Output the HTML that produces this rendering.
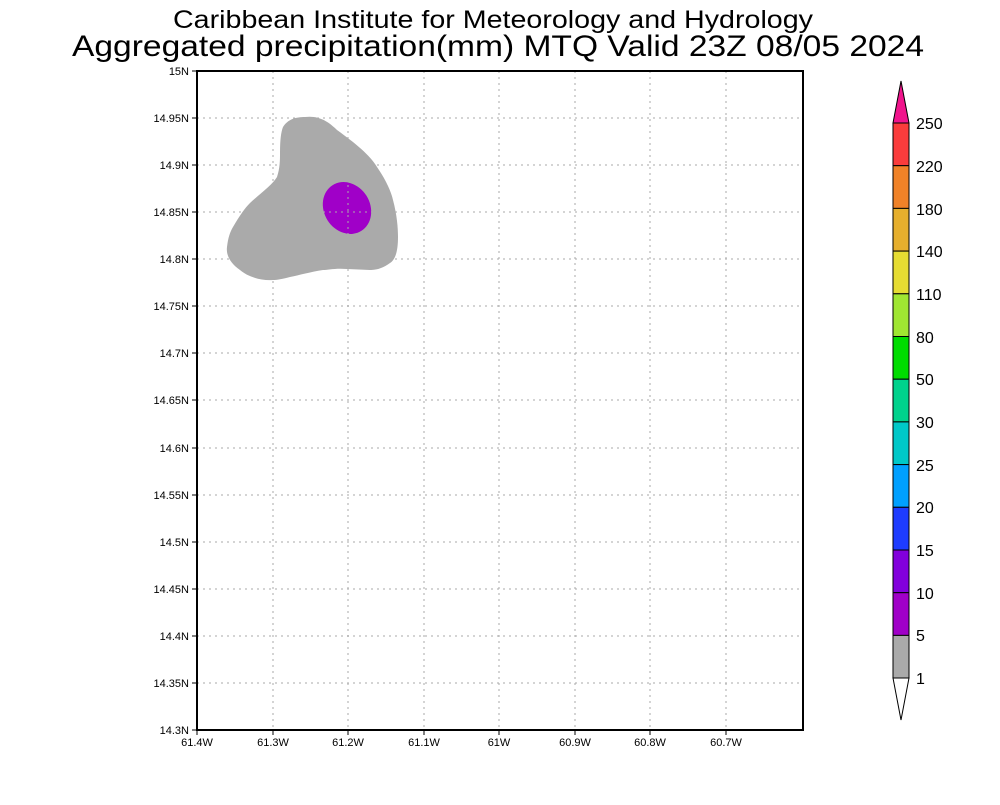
<!DOCTYPE html>
<html><head><style>
body{margin:0;background:#fff;}
svg text{font-family:"Liberation Sans",sans-serif;}
</style></head><body>
<svg width="1000" height="800" viewBox="0 0 1000 800" xmlns="http://www.w3.org/2000/svg">
<rect width="1000" height="800" fill="#fff"/>
<text x="493" y="28" font-size="25" text-anchor="middle" textLength="640" lengthAdjust="spacingAndGlyphs">Caribbean Institute for Meteorology and Hydrology</text>
<text x="498" y="56" font-size="30" text-anchor="middle" textLength="852" lengthAdjust="spacingAndGlyphs">Aggregated precipitation(mm) MTQ Valid 23Z 08/05 2024</text>
<!-- blob -->
<path d="M305,117 C320,115 330,123 337,130 C355,143 370,155 377,167 C388,183 392,195 393,200 C397,215 398,228 398,237 C398,252 395,260 390,263 C382,269 375,270 370,270 L347,269 C335,268 328,270 323,270 C310,272 300,275 290,277 C282,279 277,280 273,280 C262,281 248,277 240,270 C230,263 226,255 227,247 C228,238 230,232 233,227 C240,215 245,208 250,203 C262,192 272,185 277,177 C280,168 280,160 280,153 C280,140 281,132 283,127 C288,119 296,117 305,117 Z" fill="#aaaaaa"/>
<ellipse cx="347" cy="208" rx="23" ry="27" transform="rotate(-32 347 208)" fill="#a000c8"/>
<!-- grid -->
<g stroke="#aaa" stroke-width="1" stroke-dasharray="2,4">
<line x1="273" y1="71" x2="273" y2="730"/><line x1="348" y1="71" x2="348" y2="730"/><line x1="424" y1="71" x2="424" y2="730"/><line x1="499" y1="71" x2="499" y2="730"/><line x1="575" y1="71" x2="575" y2="730"/><line x1="650" y1="71" x2="650" y2="730"/><line x1="726" y1="71" x2="726" y2="730"/>
<line x1="197" y1="118" x2="803" y2="118"/><line x1="197" y1="165" x2="803" y2="165"/><line x1="197" y1="212" x2="803" y2="212"/><line x1="197" y1="259" x2="803" y2="259"/><line x1="197" y1="306" x2="803" y2="306"/><line x1="197" y1="353" x2="803" y2="353"/><line x1="197" y1="400" x2="803" y2="400"/><line x1="197" y1="448" x2="803" y2="448"/><line x1="197" y1="495" x2="803" y2="495"/><line x1="197" y1="542" x2="803" y2="542"/><line x1="197" y1="589" x2="803" y2="589"/><line x1="197" y1="636" x2="803" y2="636"/><line x1="197" y1="683" x2="803" y2="683"/>
</g>
<rect x="197" y="71" width="606" height="659" fill="none" stroke="#000" stroke-width="2"/>
<g stroke="#000" stroke-width="1">
<line x1="192" y1="71" x2="197" y2="71"/><line x1="192" y1="118" x2="197" y2="118"/><line x1="192" y1="165" x2="197" y2="165"/><line x1="192" y1="212" x2="197" y2="212"/><line x1="192" y1="259" x2="197" y2="259"/><line x1="192" y1="306" x2="197" y2="306"/><line x1="192" y1="353" x2="197" y2="353"/><line x1="192" y1="400" x2="197" y2="400"/><line x1="192" y1="448" x2="197" y2="448"/><line x1="192" y1="495" x2="197" y2="495"/><line x1="192" y1="542" x2="197" y2="542"/><line x1="192" y1="589" x2="197" y2="589"/><line x1="192" y1="636" x2="197" y2="636"/><line x1="192" y1="683" x2="197" y2="683"/><line x1="192" y1="730" x2="197" y2="730"/>
<line x1="197" y1="730" x2="197" y2="735"/><line x1="273" y1="730" x2="273" y2="735"/><line x1="348" y1="730" x2="348" y2="735"/><line x1="424" y1="730" x2="424" y2="735"/><line x1="499" y1="730" x2="499" y2="735"/><line x1="575" y1="730" x2="575" y2="735"/><line x1="650" y1="730" x2="650" y2="735"/><line x1="726" y1="730" x2="726" y2="735"/>
</g>
<g font-size="11" text-anchor="end">
<text x="189" y="75">15N</text><text x="189" y="122">14.95N</text><text x="189" y="169">14.9N</text><text x="189" y="216">14.85N</text><text x="189" y="263">14.8N</text><text x="189" y="310">14.75N</text><text x="189" y="357">14.7N</text><text x="189" y="404">14.65N</text><text x="189" y="452">14.6N</text><text x="189" y="499">14.55N</text><text x="189" y="546">14.5N</text><text x="189" y="593">14.45N</text><text x="189" y="640">14.4N</text><text x="189" y="687">14.35N</text><text x="189" y="734">14.3N</text>
</g>
<g font-size="11" text-anchor="middle">
<text x="197" y="746">61.4W</text><text x="273" y="746">61.3W</text><text x="348" y="746">61.2W</text><text x="424" y="746">61.1W</text><text x="499" y="746">61W</text><text x="575" y="746">60.9W</text><text x="650" y="746">60.8W</text><text x="726" y="746">60.7W</text>
</g>
<!-- colorbar -->
<g stroke="#000" stroke-width="1">
<polygon points="893,123 901,81 909,123" fill="#f0148c"/>
<rect x="893" y="123" width="16" height="42.7" fill="#fa3c3c"/>
<rect x="893" y="165.7" width="16" height="42.7" fill="#f08228"/>
<rect x="893" y="208.4" width="16" height="42.7" fill="#e6af2d"/>
<rect x="893" y="251.1" width="16" height="42.7" fill="#e6dc32"/>
<rect x="893" y="293.8" width="16" height="42.7" fill="#a0e632"/>
<rect x="893" y="336.5" width="16" height="42.7" fill="#00dc00"/>
<rect x="893" y="379.2" width="16" height="42.7" fill="#00d28c"/>
<rect x="893" y="421.9" width="16" height="42.7" fill="#00c8c8"/>
<rect x="893" y="464.6" width="16" height="42.7" fill="#00a0ff"/>
<rect x="893" y="507.3" width="16" height="42.7" fill="#1e3cff"/>
<rect x="893" y="550" width="16" height="42.7" fill="#8200dc"/>
<rect x="893" y="592.7" width="16" height="42.7" fill="#a000c8"/>
<rect x="893" y="635.4" width="16" height="42.6" fill="#aaaaaa"/>
<polygon points="893,678 901,720 909,678" fill="#fff"/>
</g>
<g font-size="16">
<text x="916" y="129">250</text><text x="916" y="172">220</text><text x="916" y="215">180</text><text x="916" y="257">140</text><text x="916" y="300">110</text><text x="916" y="343">80</text><text x="916" y="385">50</text><text x="916" y="428">30</text><text x="916" y="471">25</text><text x="916" y="513">20</text><text x="916" y="556">15</text><text x="916" y="599">10</text><text x="916" y="641">5</text><text x="916" y="684">1</text>
</g>
</svg>
</body></html>
